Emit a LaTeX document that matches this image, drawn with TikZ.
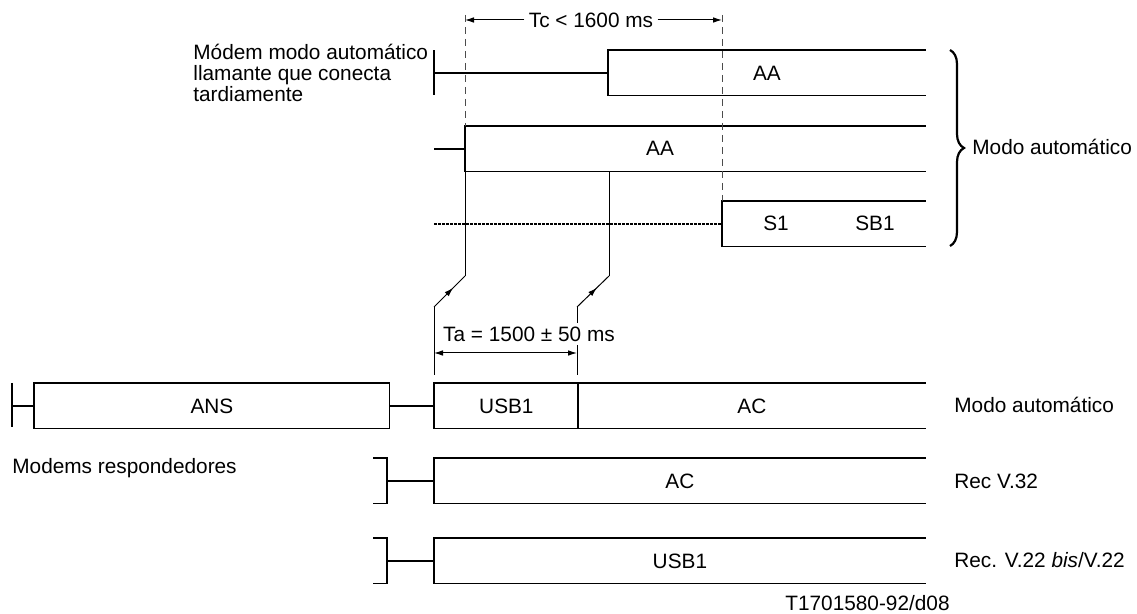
\documentclass[tikz,border=0pt]{standalone}
\usepackage{fontspec}
\setmainfont{Liberation Sans}
\usetikzlibrary{arrows.meta,decorations.markings,decorations.pathreplacing,positioning}

\tikzset{
    seg/.style={draw=none, inner sep=0pt, minimum height=22.5pt, anchor=north west},
    outline/.style={line width=0.6pt},
    lead/.style={line width=1pt},
    bar/.style={line width=1.2pt},
    guide/.style={line width=0.5pt, black!70, dash pattern=on 3.5pt off 2.5pt},
    dotline/.style={line width=0.8pt, dash pattern=on 1.5pt off 0.5pt},
    thin/.style={line width=0.5pt},
    tip/.style={thin, -{Latex[length=4.5pt,width=2.8pt]}},
    lbl/.style={inner sep=0pt, anchor=west},
    midtip/.style={thin, postaction={decorate}, decoration={markings,
        mark=at position 0.62 with {\arrow{Latex[length=4.5pt,width=2.8pt]}}}}
}

\begin{document}
\begin{tikzpicture}[x=0.5pt, y=-0.5pt, font=\fontsize{10.4}{10.6}\selectfont]
    \useasboundingbox (0,0) rectangle (1137,614);

    % Define nodes
    \node[seg, minimum width=158.5pt] (aa1) at (608,50) {AA};
    \node[seg, minimum width=230pt] (aa2) at (465,126) {};
    \node[inner sep=0pt] (aa2t) at (660,148) {AA};
    \node[seg, minimum width=101.5pt] (sb) at (722,201) {};
    \node[inner sep=0pt] (s1t) at (776,223) {S1};
    \node[inner sep=0pt] (sb1t) at (875,223) {SB1};

    \node[seg, minimum width=177.5pt] (ans) at (34,383) {ANS};
    \node[seg, minimum width=72pt] (usb) at (434,383) {USB1};
    \node[seg, minimum width=173.5pt] (ac) at (578,383) {AC};
    \node[seg, minimum width=245.5pt] (acv) at (434,458) {AC};
    \node[seg, minimum width=245.5pt] (usbv) at (434,538) {USB1};

    \node[lbl, align=left] (call) at (193,73) {Módem modo automático\\llamante que conecta\\tardiamente};
    \node[lbl] (auto1) at (972,147) {Modo automático};
    \node[lbl] (auto2) at (954,405) {Modo automático};
    \node[lbl] (v32) at (954,481) {Rec V.32};
    \node[lbl] (v22) at (954,560) {Rec. V.22 \textit{bis}/V.22};
    \node[lbl] (resp) at (12,468) {Modems respondedores};
    \node[inner sep=0pt, anchor=east] (ref) at (950,603) {T1701580-92/d08};

    \node[inner sep=2pt] (tc) at (591,20) {Tc < 1600 ms};
    \node[inner sep=1.5pt] (ta) at (529,334) {Ta = 1500 ± 50 ms};

    % Coordinates
    \coordinate (c1) at (434,73);
    \coordinate (c4) at (12,405);
    \coordinate (b1) at (387,481);
    \coordinate (b2) at (387,560);
    \coordinate (g1) at (465,15);
    \coordinate (g2) at (722,15);
    \coordinate (k1) at (465,276);
    \coordinate (k2) at (434,307);
    \coordinate (k3) at (434,375);
    \coordinate (k4) at (609,276);
    \coordinate (k5) at (577,307);
    \coordinate (k6) at (577,375);
    \coordinate (ta1) at (434,353);
    \coordinate (ta2) at (577,353);

    % Open boxes
    \draw[outline] (aa1.north east) -- (aa1.north west) -- (aa1.south west) -- (aa1.south east);
    \draw[outline] (aa2.north east) -- (aa2.north west) -- (aa2.south west) -- (aa2.south east);
    \draw[outline] (sb.north east) -- (sb.north west) -- (sb.south west) -- (sb.south east);
    \draw[outline] (ans.north west) rectangle (ans.south east);
    \draw[outline] (ac.north east) -- (usb.north west) -- (usb.south west) -- (ac.south east);
    \draw[lead] (ac.north west) -- (ac.south west);
    \draw[outline] (acv.north east) -- (acv.north west) -- (acv.south west) -- (acv.south east);
    \draw[outline] (usbv.north east) -- (usbv.north west) -- (usbv.south west) -- (usbv.south east);

    % Leaders
    \draw[bar] ([yshift=11.25pt]c1) -- ([yshift=-11.25pt]c1);
    \draw[lead] (aa1.west -| c1) -- (aa1.west);
    \draw[lead] (aa2.west -| c1) -- (aa2.west);
    \draw[dotline] (sb.west -| c1) -- (sb.west);
    \draw[bar] ([yshift=11pt]c4) -- ([yshift=-11pt]c4);
    \draw[lead] (ans.west -| c4) -- (ans.west);
    \draw[lead] (ans.east) -- (usb.west);
    \draw[outline] ([xshift=-7pt]acv.north west -| b1) -- (acv.north west -| b1) -- (acv.south west -| b1) -- ([xshift=-7pt]acv.south west -| b1);
    \draw[lead] (acv.west -| b1) -- (acv.west);
    \draw[outline] ([xshift=-7pt]usbv.north west -| b2) -- (usbv.north west -| b2) -- (usbv.south west -| b2) -- ([xshift=-7pt]usbv.south west -| b2);
    \draw[lead] (usbv.west -| b2) -- (usbv.west);

    % Timing
    \draw[guide] (g1) -- (aa2.north west);
    \draw[guide] (g2) -- (sb.north west);
    \draw[tip] (tc.west) -- (g1 |- tc);
    \draw[tip] (tc.east) -- (g2 |- tc);
    \draw[thin] (aa2.south west) -- (k1);
    \draw[midtip] (k2) -- (k1);
    \draw[thin] (k2) -- (k3);
    \draw[thin] (aa2.south west -| k4) -- (k4);
    \draw[midtip] (k5) -- (k4);
    \draw[thin] (k5) -- (ta.north -| k5);
    \draw[thin] (ta.south -| k5) -- (k6);
    \draw[thin, {Latex[length=4.5pt,width=2.8pt]}-{Latex[length=4.5pt,width=2.8pt]}] (ta1) -- (ta2);

    % Brace
    \draw[line width=1.1pt, decorate, decoration={brace, amplitude=7pt}] (950,50) -- (950,246);
\end{tikzpicture}
\end{document}
